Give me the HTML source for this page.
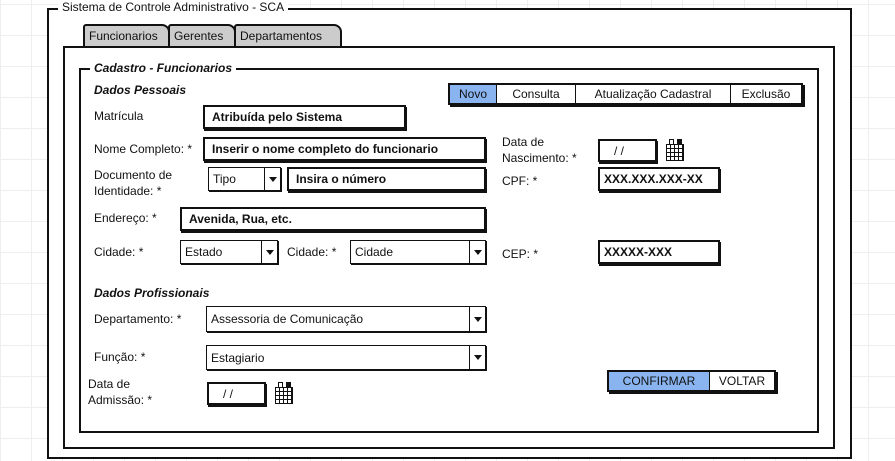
<!DOCTYPE html>
<html><head><meta charset="utf-8"><style>
*{box-sizing:border-box;margin:0;padding:0}
body{width:895px;height:461px;position:relative;overflow:hidden;font-family:"Liberation Sans",sans-serif;font-size:12px;color:#111;
background-color:#fff;background-image:linear-gradient(#eee 1px,transparent 1px),linear-gradient(90deg,#eee 1px,transparent 1px);background-size:31px 31px;background-position:0 4px}
.a{position:absolute;white-space:nowrap}
.box{position:absolute;border:2px solid #111;background:#fff}
.in{position:absolute;border:2px solid #111;background:#fff;box-shadow:1px 2px 0 #111;padding-left:7px;font-weight:bold;font-size:12px;display:flex;align-items:center}
.sel{position:absolute;border:1.5px solid #111;background:#fff;padding-left:4px;font-size:12px;display:flex;align-items:center;box-shadow:1px 1px 0 #111}
.sel .dd{position:absolute;right:0;top:0;bottom:0;width:16px;border-left:1.5px solid #111;display:flex;align-items:center;justify-content:center}
.sel .dd:after{content:"";border-left:4px solid transparent;border-right:4px solid transparent;border-top:5px solid #111}
.lbl{position:absolute;font-size:12px;line-height:16px;white-space:nowrap}
.h{position:absolute;font-weight:bold;font-style:italic;font-size:12px;white-space:nowrap}
.tab{position:absolute;top:24px;height:23px;background:#ccc;border:2px solid #111;border-bottom:none;border-radius:3px 8px 0 0;font-size:12px;padding:3px 0 0 4px;transform-origin:bottom left}
.cal{position:absolute;width:20px;height:22px}
.cal:before{content:"";position:absolute;left:2px;right:0;top:5px;bottom:0;border:1.5px solid #111;background:repeating-linear-gradient(90deg,transparent 0 3px,#111 3px 4px),repeating-linear-gradient(transparent 0 3px,#111 3px 4px)}
.cal:after{content:"";position:absolute;left:5px;top:0;width:3px;height:5px;border:1.5px solid #111;border-bottom:none;box-shadow:8px 0 0 -0px #111}
.bar{position:absolute;display:flex;border:2px solid #111;box-shadow:2px 2px 0 #111;background:#fff}
.bar div{border-right:1.5px solid #111;display:flex;align-items:center;justify-content:center;font-size:12px}
.bar div:last-child{border-right:none}
.blue{background:#8ab4ef}
</style></head><body>
<div class="box" style="left:47px;top:8px;width:805px;height:451px;border-width:2px"></div>
<div class="a" style="left:58px;top:0px;background:#fff;padding:0 4px;font-size:12px;line-height:14px">Sistema de Controle Administrativo - SCA</div>
<div class="tab" style="left:83px;width:87px">Funcionarios</div>
<div class="tab" style="left:168px;width:68px">Gerentes</div>
<div class="tab" style="left:234px;width:108px">Departamentos</div>
<div class="box" style="left:63px;top:46px;width:772px;height:403px"></div>
<div class="box" style="left:79px;top:68px;width:740px;height:365px"></div>
<div class="h" style="left:90px;top:61px;background:#fff;padding:0 4px;line-height:14px">Cadastro - Funcionarios</div>
<div class="h" style="left:94px;top:83px">Dados Pessoais</div>
<div class="bar" style="left:448px;top:83px;width:355px;height:22px">
<div class="blue" style="width:47px">Novo</div><div style="width:79px">Consulta</div><div style="width:155px">Atualização Cadastral</div><div style="flex:1">Exclusão</div></div>

<div class="lbl" style="left:94px;top:108px">Matrícula</div>
<div class="in" style="left:203px;top:105px;width:203px;height:24px">Atribuída pelo Sistema</div>

<div class="lbl" style="left:94px;top:141px">Nome Completo: *</div>
<div class="in" style="left:203px;top:137px;width:283px;height:24px">Inserir o nome completo do funcionario</div>

<div class="lbl" style="left:502px;top:134px">Data de<br>Nascimento: *</div>
<div class="in" style="left:598px;top:139px;width:59px;height:23px;font-weight:normal;padding-left:14px">/ /</div>
<div class="cal" style="left:664px;top:139px"></div>

<div class="lbl" style="left:94px;top:167px">Documento de<br>Identidade: *</div>
<div class="sel" style="left:208px;top:167px;width:73px;height:24px">Tipo<div class="dd"></div></div>
<div class="in" style="left:287px;top:167px;width:199px;height:24px">Insira o número</div>
<div class="lbl" style="left:502px;top:173px">CPF: *</div>
<div class="in" style="left:598px;top:167px;width:122px;height:24px;padding-left:4px">XXX.XXX.XXX-XX</div>

<div class="lbl" style="left:94px;top:210px">Endereço: *</div>
<div class="in" style="left:180px;top:207px;width:306px;height:24px">Avenida, Rua, etc.</div>

<div class="lbl" style="left:94px;top:244px">Cidade: *</div>
<div class="sel" style="left:180px;top:240px;width:98px;height:24px">Estado<div class="dd"></div></div>
<div class="lbl" style="left:287px;top:244px">Cidade: *</div>
<div class="sel" style="left:350px;top:240px;width:136px;height:24px">Cidade<div class="dd"></div></div>
<div class="lbl" style="left:502px;top:246px">CEP: *</div>
<div class="in" style="left:598px;top:240px;width:122px;height:24px;padding-left:4px">XXXXX-XXX</div>

<div class="h" style="left:94px;top:286px">Dados Profissionais</div>
<div class="lbl" style="left:94px;top:311px">Departamento: *</div>
<div class="sel" style="left:206px;top:306px;width:280px;height:26px">Assessoria de Comunicação<div class="dd"></div></div>
<div class="lbl" style="left:94px;top:349px">Função: *</div>
<div class="sel" style="left:206px;top:345px;width:280px;height:25px">Estagiario<div class="dd"></div></div>

<div class="lbl" style="left:88px;top:376px">Data de<br>Admissão: *</div>
<div class="in" style="left:207px;top:382px;width:59px;height:23px;font-weight:normal;padding-left:14px">/ /</div>
<div class="cal" style="left:273px;top:382px"></div>

<div class="bar" style="left:607px;top:370px;width:169px;height:22px">
<div class="blue" style="width:101px">CONFIRMAR</div><div style="flex:1">VOLTAR</div></div>
</body></html>
